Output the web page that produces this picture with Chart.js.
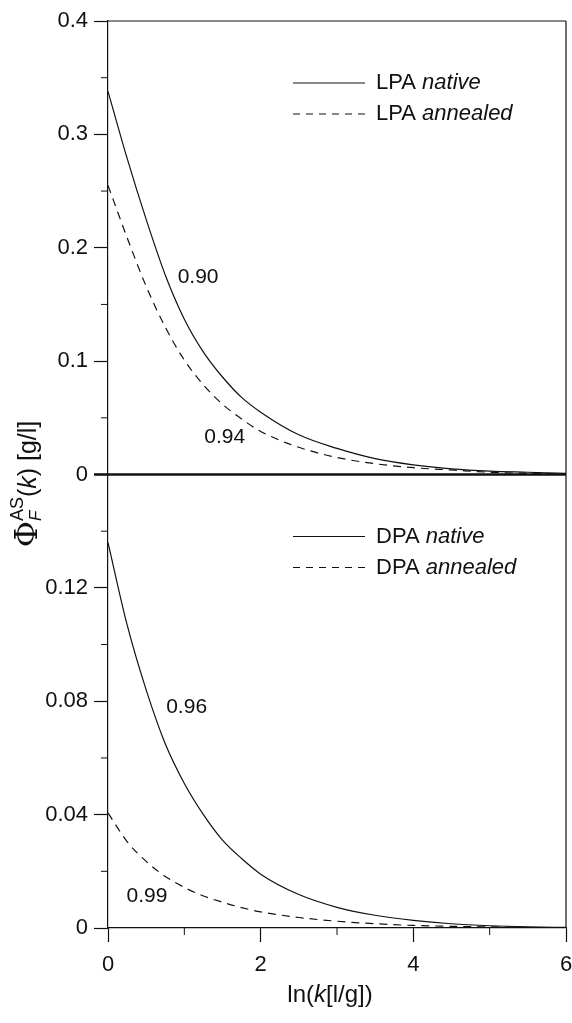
<!DOCTYPE html>
<html>
<head>
<meta charset="utf-8">
<script src="https://cdn.jsdelivr.net/npm/chart.js@4/dist/chart.umd.min.js"></script>
<style>
	html, body { margin: 0; padding: 0; background: #fff; }
	#wrap { width: 572px; height: 1023px; }
</style>
</head>
<body>
<div id="wrap"><canvas id="chart" width="572" height="1023"></canvas></div>
<script>
// x values, ln(k [l/g])
const lnK = [0, 0.25, 0.5, 0.75, 1, 1.25, 1.5, 1.75, 2, 2.5, 3, 3.5, 4, 4.5, 5, 5.5, 6];

// top panel
const lpaNative   = [0.338, 0.279, 0.225, 0.176, 0.137, 0.108, 0.086, 0.068, 0.055, 0.035, 0.023, 0.014, 0.0085, 0.005, 0.003, 0.002, 0.001];
const lpaAnnealed = [0.255, 0.209, 0.166, 0.130, 0.101, 0.079, 0.062, 0.049, 0.038, 0.024, 0.015, 0.0095, 0.006, 0.004, 0.002, 0.001, 0.0005];

// bottom panel
const dpaNative   = [0.136, 0.107, 0.084, 0.065, 0.051, 0.040, 0.031, 0.0245, 0.019, 0.0118, 0.0073, 0.0045, 0.0027, 0.0015, 0.0008, 0.0004, 0.0002];
const dpaAnnealed = [0.0406, 0.0305, 0.0235, 0.0182, 0.0143, 0.0113, 0.0091, 0.0072, 0.0057, 0.0037, 0.0024, 0.0015, 0.0009, 0.0006, 0.0004, 0.0002, 0.0001];

const topTicks = [0, 0.1, 0.2, 0.3, 0.4];
const topMinor = [0.05, 0.15, 0.25, 0.35];
const botTicks = [0, 0.04, 0.08, 0.12];
const botMinor = [0.02, 0.06, 0.10, 0.14];
const xTicks = [0, 2, 4, 6];
const xMinor = [1, 3, 5];

// fit values written next to the curves
const fitLabels = ['0.90', '0.94', '0.96', '0.99'];
const fitAt = [[1.18, 0.174, 'yTop'], [1.53, 0.033, 'yTop'], [1.03, 0.078, 'yBot'], [0.51, 0.0113, 'yBot']];

const FONT = '"Liberation Sans", Arial, sans-serif';
const INK = '#111';

function pts(ys) {
	return lnK.map((x, i) => ({ x: x, y: ys[i] }));
}

function curve(label, ys, axis, dashed) {
	return {
		label: label,
		data: pts(ys),
		yAxisID: axis,
		borderColor: INK,
		borderWidth: 1.2,
		borderDash: dashed ? [8, 6] : [],
		pointRadius: 0,
		fill: false,
		cubicInterpolationMode: 'monotone'
	};
}

function fixTicks(list) {
	return function (scale) {
		scale.ticks = list.map(v => ({ value: v }));
	};
}

function line(ctx, x1, y1, x2, y2, w) {
	ctx.beginPath();
	ctx.lineWidth = w;
	ctx.moveTo(x1, y1);
	ctx.lineTo(x2, y2);
	ctx.stroke();
}

// frame, minor ticks, legends, labels and axis titles
const decorations = {
	id: 'decorations',
	afterDraw(chart) {
		const ctx = chart.ctx;
		const a = chart.chartArea;
		const sx = chart.scales.x, yt = chart.scales.yTop, yb = chart.scales.yBot;
		ctx.save();
		ctx.strokeStyle = INK;
		ctx.fillStyle = INK;

		// top and right border, thick line between panels
		line(ctx, a.left, a.top, a.right, a.top, 1.2);
		line(ctx, a.right, a.top, a.right, a.bottom, 1.2);
		const mid = yt.getPixelForValue(0);
		line(ctx, a.left - 14, mid, a.right, mid, 2.4);

		// minor ticks
		topMinor.forEach(v => { const y = yt.getPixelForValue(v); line(ctx, a.left - 7, y, a.left, y, 1); });
		botMinor.forEach(v => { const y = yb.getPixelForValue(v); line(ctx, a.left - 7, y, a.left, y, 1); });
		xMinor.forEach(v => { const x = sx.getPixelForValue(v); line(ctx, x, a.bottom, x, a.bottom + 7, 1); });

		// legends
		ctx.textBaseline = 'middle';
		ctx.textAlign = 'left';
		const legends = [[yt.top, 'LPA'], [yb.top, 'DPA']];
		legends.forEach(([top, name]) => {
			[['native', false, 62], ['annealed', true, 93]].forEach(([word, dashed, dy]) => {
				const y = top + dy;
				ctx.setLineDash(dashed ? [7, 6] : []);
				line(ctx, 293, y, 365, y, 1.2);
				ctx.setLineDash([]);
				ctx.font = '22px ' + FONT;
				ctx.fillText(name + ' ', 376, y);
				const w = ctx.measureText(name + ' ').width;
				ctx.font = 'italic 22px ' + FONT;
				ctx.fillText(word, 376 + w, y);
			});
		});

		// fit values
		ctx.font = '21px ' + FONT;
		ctx.textAlign = 'center';
		fitLabels.forEach((t, i) => {
			const p = fitAt[i];
			ctx.fillText(t, sx.getPixelForValue(p[0]), chart.scales[p[2]].getPixelForValue(p[1]));
		});

		// x title: ln(k[l/g])
		const xr = [['ln(', ''], ['k', 'italic '], ['[l/g])', '']];
		let tw = 0;
		xr.forEach(r => { ctx.font = r[1] + '24px ' + FONT; tw += ctx.measureText(r[0]).width; });
		let tx = 330 - tw / 2;
		ctx.textAlign = 'left';
		xr.forEach(r => { ctx.font = r[1] + '24px ' + FONT; ctx.fillText(r[0], tx, 995); tx += ctx.measureText(r[0]).width; });

		// y title: Phi_F^AS(k) [g/l], rotated
		ctx.translate(36, 484);
		ctx.rotate(-Math.PI / 2);
		ctx.textBaseline = 'alphabetic';
		const yr = [
			['\u03A6', '32px "DejaVu Serif", serif', 1],
			['AS', '18px ' + FONT, -13, 'F', 'italic 17px ' + FONT, 5],
			['(', '25px ' + FONT, 0],
			['k', 'italic 25px ' + FONT, 0],
			[') [g/l]', '25px ' + FONT, 0]
		];
		const widths = yr.map(r => {
			ctx.font = r[1];
			let w = ctx.measureText(r[0]).width;
			if (r[3]) { ctx.font = r[4]; w = Math.max(w, ctx.measureText(r[3]).width); }
			return w;
		});
		let ly = -widths.reduce((s, w) => s + w, 0) / 2;
		yr.forEach((r, i) => {
			ctx.font = r[1];
			ctx.fillText(r[0], ly, r[2]);
			if (r[3]) { ctx.font = r[4]; ctx.fillText(r[3], ly, r[5]); }
			ly += widths[i];
		});
		ctx.restore();
	}
};

const yCommon = {
	type: 'linear',
	position: 'left',
	stack: 'panels',
	stackWeight: 1,
	afterFit(scale) { scale.width = 108; },
	border: { display: true, color: INK, width: 1.2 },
	grid: { drawOnChartArea: false, drawTicks: true, tickLength: 14, tickColor: INK, tickWidth: 1.2 },
	ticks: { color: INK, font: { family: FONT, size: 22 }, padding: 6 }
};

new Chart(document.getElementById('chart'), {
	type: 'line',
	data: {
		datasets: [
			curve('LPA native', lpaNative, 'yTop', false),
			curve('LPA annealed', lpaAnnealed, 'yTop', true),
			curve('DPA native', dpaNative, 'yBot', false),
			curve('DPA annealed', dpaAnnealed, 'yBot', true)
		]
	},
	options: {
		responsive: false,
		animation: false,
		devicePixelRatio: 1,
		layout: { padding: { top: 21, right: 6, left: 0, bottom: 0 } },
		plugins: { legend: { display: false }, tooltip: { enabled: false } },
		scales: {
			x: {
				type: 'linear',
				min: 0,
				max: 6,
				afterFit(scale) { scale.height = 95; scale.paddingLeft = 0; scale.paddingRight = 0; },
				afterBuildTicks: fixTicks(xTicks),
				border: { display: true, color: INK, width: 1.2 },
				grid: { drawOnChartArea: false, drawTicks: true, tickLength: 14, tickColor: INK, tickWidth: 1.2 },
				ticks: { color: INK, font: { family: FONT, size: 22 }, padding: 10, maxRotation: 0 }
			},
			// stacked axes are placed bottom-up in the order they are listed
			yBot: Object.assign({}, yCommon, {
				min: 0,
				max: 0.16,
				afterBuildTicks: fixTicks(botTicks),
				ticks: Object.assign({}, yCommon.ticks, { callback: v => v === 0 ? '0' : v.toFixed(2) })
			}),
			yTop: Object.assign({}, yCommon, {
				min: 0,
				max: 0.4,
				afterBuildTicks: fixTicks(topTicks),
				ticks: Object.assign({}, yCommon.ticks, { callback: v => v === 0 ? '0' : v.toFixed(1) })
			})
		}
	},
	plugins: [decorations]
});
</script>
</body>
</html>
